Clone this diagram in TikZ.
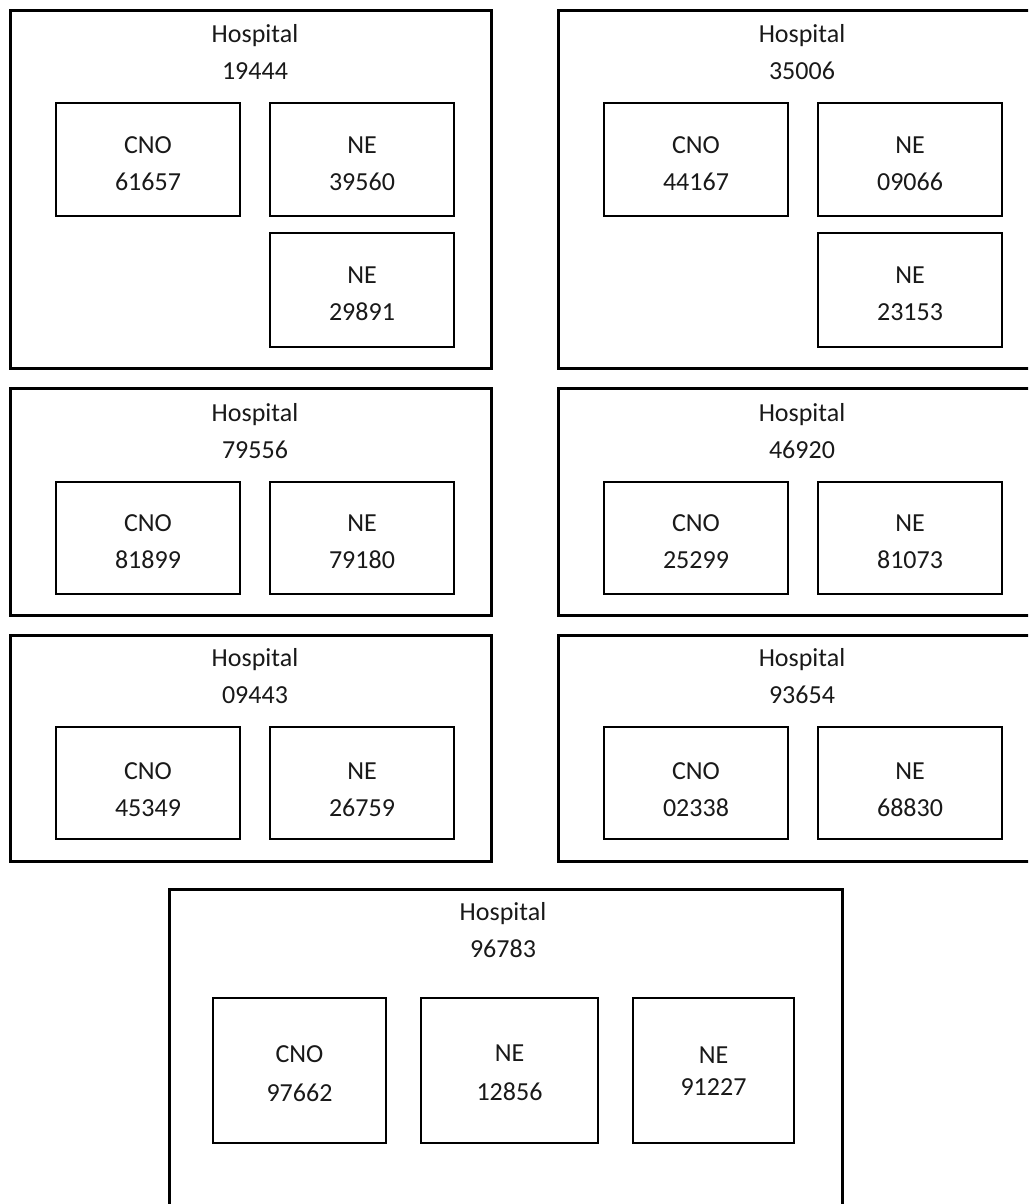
\documentclass[tikz,border=0pt]{standalone}
\usepackage{fontspec}
\setmainfont{Carlito}
\usetikzlibrary{fit}
\tikzset{
  outerbox/.style={draw=black, line width=3pt, inner sep=0pt, outer sep=0pt, rectangle},
  innerbox/.style={draw=black, line width=2pt, inner sep=0pt, outer sep=0pt, rectangle},
  lbl/.style={inner sep=0pt, outer sep=0pt, anchor=base, text=black!90, font=\fontsize{26}{37}\selectfont}
}
\newcommand\twoline[6]{%
  \node[lbl] (#1) at (#2,#3) {\begin{tabular}[t]{@{}c@{}}#4\\[#6]#5\end{tabular}};}
\begin{document}
\begin{tikzpicture}[x=1pt,y=-1pt]
\useasboundingbox (0,0) rectangle (1028,1204);
\clip (0,0) rectangle (1028,1204);
% ---------- Hospital 19444
\node[outerbox, fit={(10,11) (491,368)}] (h1) {};
\twoline{h1t}{255}{42.3}{Hospital}{19444}{0pt}
\node[innerbox, fit={(56,103) (240,216)}] (h1c) {};
\twoline{h1ct}{148}{153.5}{CNO}{61657}{0pt}
\node[innerbox, fit={(270,103) (454,216)}] (h1n) {};
\twoline{h1nt}{362}{153.5}{NE}{39560}{0pt}
\node[innerbox, fit={(270,233) (454,347)}] (h1m) {};
\twoline{h1mt}{362}{283.5}{NE}{29891}{0pt}
% ---------- Hospital 35006
\node[outerbox, fit={(558,11) (1039,368)}] (h2) {};
\twoline{h2t}{802}{42.3}{Hospital}{35006}{0pt}
\node[innerbox, fit={(604,103) (788,216)}] (h2c) {};
\twoline{h2ct}{696}{153.5}{CNO}{44167}{0pt}
\node[innerbox, fit={(818,103) (1002,216)}] (h2n) {};
\twoline{h2nt}{910}{153.5}{NE}{09066}{0pt}
\node[innerbox, fit={(818,233) (1002,347)}] (h2m) {};
\twoline{h2mt}{910}{283.5}{NE}{23153}{0pt}
% ---------- Hospital 79556
\node[outerbox, fit={(10,388) (491,615)}] (h3) {};
\twoline{h3t}{255}{421.7}{Hospital}{79556}{0pt}
\node[innerbox, fit={(56,482) (240,594)}] (h3c) {};
\twoline{h3ct}{148}{531.7}{CNO}{81899}{0pt}
\node[innerbox, fit={(270,482) (454,594)}] (h3n) {};
\twoline{h3nt}{362}{531.7}{NE}{79180}{0pt}
% ---------- Hospital 46920
\node[outerbox, fit={(558,388) (1039,615)}] (h4) {};
\twoline{h4t}{802}{421.7}{Hospital}{46920}{0pt}
\node[innerbox, fit={(604,482) (788,594)}] (h4c) {};
\twoline{h4ct}{696}{531.7}{CNO}{25299}{0pt}
\node[innerbox, fit={(818,482) (1002,594)}] (h4n) {};
\twoline{h4nt}{910}{531.7}{NE}{81073}{0pt}
% ---------- Hospital 09443
\node[outerbox, fit={(10,635) (491,861)}] (h5) {};
\twoline{h5t}{255}{666.7}{Hospital}{09443}{0pt}
\node[innerbox, fit={(56,727) (240,839)}] (h5c) {};
\twoline{h5ct}{148}{779.3}{CNO}{45349}{0pt}
\node[innerbox, fit={(270,727) (454,839)}] (h5n) {};
\twoline{h5nt}{362}{779.3}{NE}{26759}{0pt}
% ---------- Hospital 93654
\node[outerbox, fit={(558,635) (1039,861)}] (h6) {};
\twoline{h6t}{802}{666.7}{Hospital}{93654}{0pt}
\node[innerbox, fit={(604,727) (788,839)}] (h6c) {};
\twoline{h6ct}{696}{779.3}{CNO}{02338}{0pt}
\node[innerbox, fit={(818,727) (1002,839)}] (h6n) {};
\twoline{h6nt}{910}{779.3}{NE}{68830}{0pt}
% ---------- Hospital 96783
\node[outerbox, fit={(169,889) (842,1230)}] (h7) {};
\twoline{h7t}{503}{920}{Hospital}{96783}{0pt}
\node[innerbox, fit={(213,998) (386,1143)}] (h7c) {};
\twoline{h7ct}{299.5}{1062.3}{CNO}{97662}{2.4pt}
\node[innerbox, fit={(421,998) (598,1143)}] (h7n) {};
\twoline{h7nt}{509.5}{1061.7}{NE}{12856}{2pt}
\node[innerbox, fit={(633,998) (794,1143)}] (h7m) {};
\twoline{h7mt}{713.5}{1063.3}{NE}{91227}{-4.6pt}
\end{tikzpicture}
\end{document}
